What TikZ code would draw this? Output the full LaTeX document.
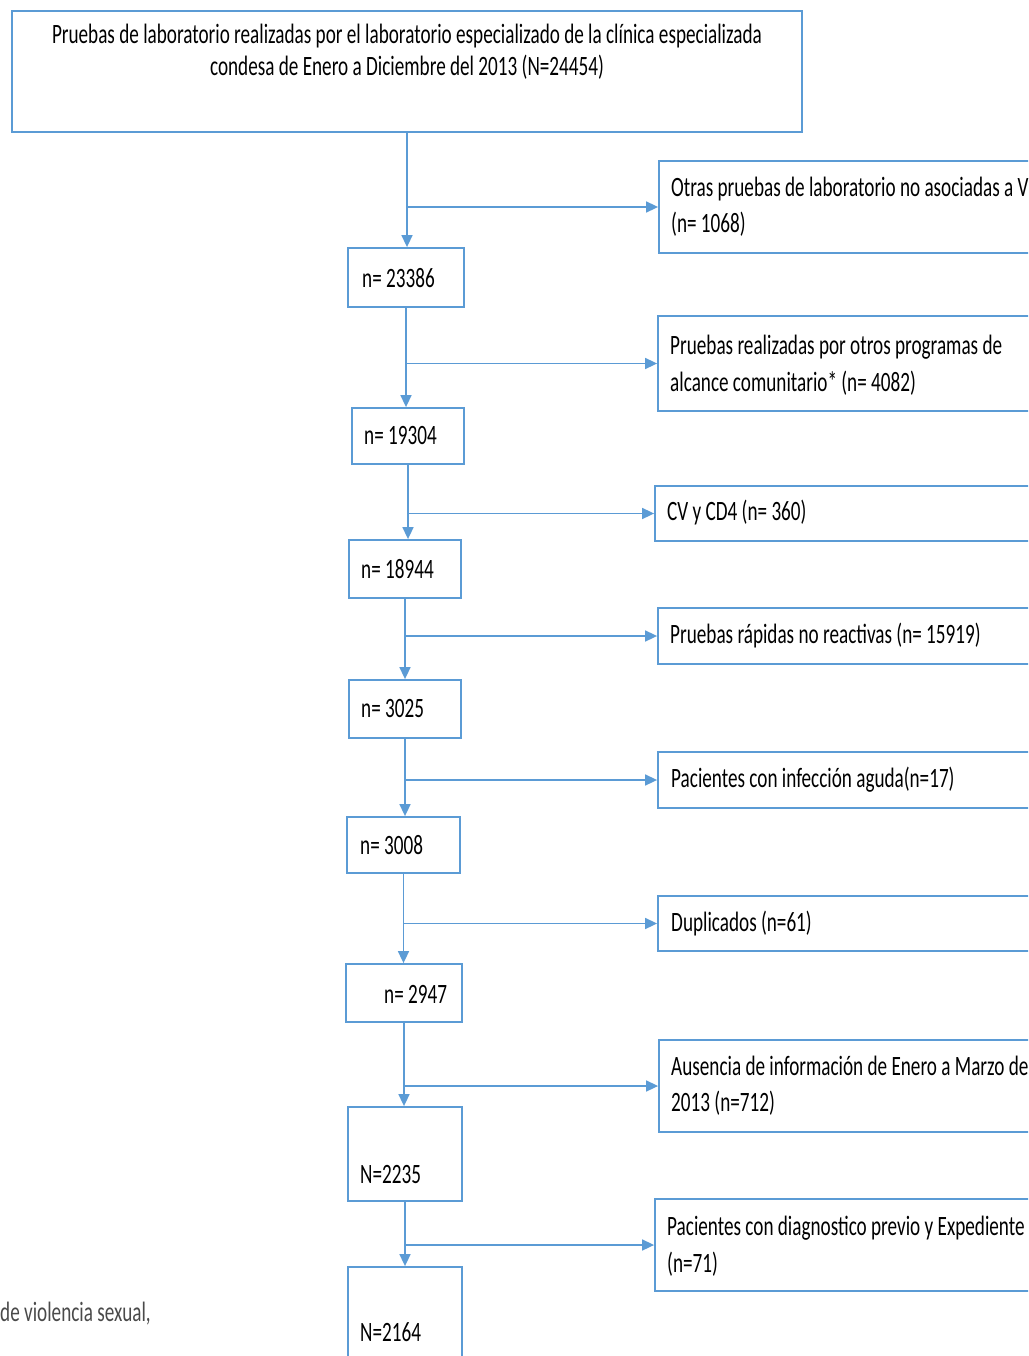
\documentclass[tikz,border=0pt]{standalone}
\usepackage{fontspec}
\setmainfont[FakeStretch=0.685]{Carlito}
\usetikzlibrary{arrows.meta}
\definecolor{bblue}{HTML}{5B9BD5}
\definecolor{txtgray}{HTML}{4A4A4A}
\begin{document}
\begin{tikzpicture}[x=1pt,y=-1pt,
  box/.style={draw=bblue,line width=1.8pt,inner sep=0pt},
  conn/.style={draw=bblue,line width=1.6pt},
  arr/.style={-{Triangle[length=12pt,width=11pt]}},
  lbl/.style={anchor=west,inner sep=0pt,align=left,font=\fontsize{28}{36.5}\selectfont}]
\useasboundingbox (0,0) rectangle (1028,1356);
\clip (0,0) rectangle (1028,1356);
% boxes
\node[box,minimum width=790pt,minimum height=121pt] (T) at (407,71.5) {};
\node[box,minimum width=381pt,minimum height=92pt] (R1) at (849.5,207) {};
\node[box,minimum width=116pt,minimum height=59pt] (L1) at (406,277.5) {};
\node[box,minimum width=382pt,minimum height=95pt] (R2) at (849,363.5) {};
\node[box,minimum width=112pt,minimum height=56pt] (L2) at (408,436) {};
\node[box,minimum width=385pt,minimum height=55pt] (R3) at (847.5,513.5) {};
\node[box,minimum width=112pt,minimum height=58pt] (L3) at (405,569) {};
\node[box,minimum width=382pt,minimum height=56pt] (R4) at (849,636) {};
\node[box,minimum width=112pt,minimum height=58pt] (L4) at (405,709) {};
\node[box,minimum width=382pt,minimum height=56pt] (R5) at (849,780) {};
\node[box,minimum width=113pt,minimum height=56pt] (L5) at (403.5,845) {};
\node[box,minimum width=382pt,minimum height=55pt] (R6) at (849,923.5) {};
\node[box,minimum width=116pt,minimum height=58pt] (L6) at (404,993) {};
\node[box,minimum width=381pt,minimum height=92pt] (R7) at (849.5,1086) {};
\node[box,minimum width=114pt,minimum height=94pt] (L7) at (405,1154) {};
\node[box,minimum width=385pt,minimum height=92pt] (R8) at (847.5,1245) {};
\node[box,minimum width=114pt,minimum height=103pt] (L8) at (405,1318.5) {};
% texts
\node[lbl,anchor=center,align=center,font=\fontsize{28}{32}\selectfont] (tT) at (407,52)
  {Pruebas de laboratorio realizadas por el laboratorio especializado de la clínica especializada\\condesa de Enero a Diciembre del 2013 (N=24454)};
\node[lbl] (tR1) at (671,206.5) {Otras pruebas de laboratorio no asociadas a V\\(n= 1068)};
\node[lbl] (tL1) at (362,278) {n= 23386};
\node[lbl] (tR2) at (670,365) {Pruebas realizadas por otros programas de\\alcance comunitario* (n= 4082)};
\node[lbl] (tL2) at (364,436) {n= 19304};
\node[lbl] (tR3) at (667,513) {CV y CD4 (n= 360)};
\node[lbl] (tL3) at (361,569) {n= 18944};
\node[lbl] (tR4) at (670,636) {Pruebas rápidas no reactivas (n= 15919)};
\node[lbl] (tL4) at (361,709) {n= 3025};
\node[lbl] (tR5) at (671,780) {Pacientes con infección aguda(n=17)};
\node[lbl] (tL5) at (360,845) {n= 3008};
\node[lbl] (tR6) at (671,924) {Duplicados (n=61)};
\node[lbl] (tL6) at (384,994) {n= 2947};
\node[lbl] (tR7) at (671,1085.5) {Ausencia de información de Enero a Marzo de\\2013 (n=712)};
\node[lbl] (tL7) at (360,1174) {N=2235};
\node[lbl] (tR8) at (667,1246) {Pacientes con diagnostico previo y Expediente\\(n=71)};
\node[lbl] (tL8) at (360,1332) {N=2164};
\node[lbl,text=txtgray] (foot) at (0,1314) {de violencia sexual,};
% connectors
\draw[conn,arr] (T.south) -- (T.south |- L1.north);
\draw[conn,arr] (T.south |- R1.west) -- (R1.west);
\draw[conn,arr] (L1.south) -- (L1.south |- L2.north);
\draw[conn,arr] (L1.south |- R2.west) -- (R2.west);
\draw[conn,arr] (L2.south) -- (L2.south |- L3.north);
\draw[conn,arr] (L2.south |- R3.west) -- (R3.west);
\draw[conn,arr] (L3.south) -- (L3.south |- L4.north);
\draw[conn,arr] (L3.south |- R4.west) -- (R4.west);
\draw[conn,arr] (L4.south) -- (L4.south |- L5.north);
\draw[conn,arr] (L4.south |- R5.west) -- (R5.west);
\draw[conn,arr] (L5.south) -- (L5.south |- L6.north);
\draw[conn,arr] (L5.south |- R6.west) -- (R6.west);
\draw[conn,arr] (L6.south) -- (L6.south |- L7.north);
\draw[conn,arr] (L6.south |- R7.west) -- (R7.west);
\draw[conn,arr] (L7.south) -- (L7.south |- L8.north);
\draw[conn,arr] (L7.south |- R8.west) -- (R8.west);
\end{tikzpicture}
\end{document}
